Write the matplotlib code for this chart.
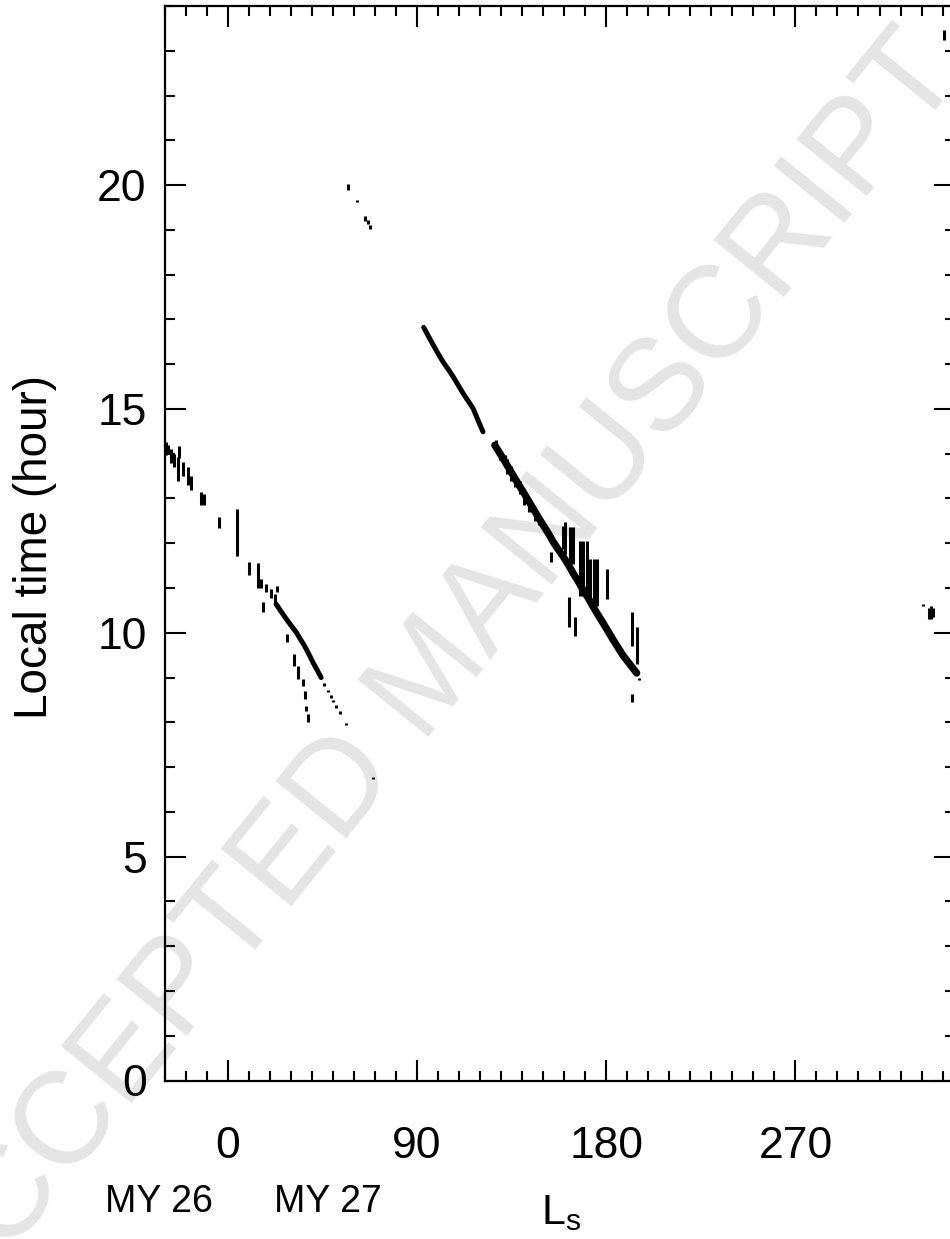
import matplotlib
matplotlib.use("Agg")
import matplotlib.pyplot as plt
from matplotlib.ticker import MultipleLocator

plt.rcParams['font.family'] = ['Liberation Sans', 'DejaVu Sans']

# ---------------- data (Ls in degrees, local time in hours) ----------------
# end of MY 26 / start of MY 27 observations (vertical extent = LT range)
early_ls = [-29.5, -28.5, -26.8, -25.8, -23.8, -23.0, -21.5, -19.0, -17.5,
            -12.5, -11.5, -4.2, 4.2, 10.1, 14.2, 15.9, 16.7, 18.3, 20.7, 22.3, 23.4]
early_lo = [13.98, 14.00, 13.80, 13.70, 13.40, 13.90, 13.51, 13.30, 13.20,
            12.85, 12.85, 12.33, 11.72, 11.28, 11.00, 11.00, 10.47, 10.90, 10.77, 10.64, 10.90]
early_hi = [14.27, 14.20, 14.10, 14.00, 13.93, 14.18, 13.82, 13.70, 13.50,
            13.15, 13.10, 12.59, 12.77, 11.58, 11.55, 11.20, 10.69, 11.10, 10.97, 10.87, 11.05]

# MY 27 first track (continuous part)
trk1_ls = [23.0, 25.0, 27.8, 30.0, 32.6, 34.5, 36.5, 38.5, 40.5, 42.5, 44.4]
trk1_lt = [10.64, 10.50, 10.31, 10.17, 10.01, 9.86, 9.71, 9.53, 9.34, 9.17, 9.00]
# sparse continuation of first track
dots1_ls = [46.0, 47.6, 49.0, 50.0, 51.5, 53.2, 56.1]
dots1_lt = [8.85, 8.70, 8.58, 8.48, 8.35, 8.22, 7.96]

# branch below first track
br1_ls = [28.1, 31.3, 33.2, 35.6, 36.9, 37.3, 38.1]
br1_lo = [9.79, 9.26, 8.97, 8.81, 8.52, 8.25, 8.00]
br1_hi = [9.97, 9.52, 9.26, 8.97, 8.70, 8.36, 8.18]

# isolated points
iso_ls = [57.2, 61.5, 65.5, 66.5, 67.6, 69.0]
iso_lo = [19.90, 19.62, 19.20, 19.12, 19.03, 6.73]
iso_hi = [20.02, 19.66, 19.30, 19.22, 19.10, 6.77]

# MY 27 second track, first segment
trk2a_ls = [93.2, 95.5, 97.7, 100.0, 102.4, 104.8, 107.2, 109.5, 111.9, 114.3, 116.7,
            119.0, 121.4]
trk2a_lt = [16.82, 16.62, 16.43, 16.24, 16.05, 15.89, 15.72, 15.54, 15.35, 15.18, 15.01,
            14.75, 14.49]
# MY 27 second track, second segment
trk2b_ls = [127.0, 129.0, 131.0, 133.4, 135.7, 138.1, 140.5, 142.9,
            145.3, 147.7, 150.1, 152.5, 154.8, 157.2, 159.6, 162.0, 164.4, 166.8,
            169.1, 171.5, 173.8, 176.1, 178.5, 180.8, 183.2, 185.5, 187.9, 190.2,
            192.5, 194.5]
trk2b_lt = [14.19, 14.04, 13.89, 13.70, 13.52, 13.33, 13.15, 12.96,
            12.77, 12.58, 12.40, 12.22, 12.03, 11.86, 11.70, 11.52, 11.32, 11.14,
            10.95, 10.77, 10.58, 10.40, 10.22, 10.04, 9.85, 9.68, 9.50, 9.36,
            9.22, 9.10]
# local scatter around the second segment (LT ranges)
fz_ls = [127.5, 129.5, 131.8, 133.0, 134.6, 136.4, 138.8, 141.0, 143.5, 146.0, 148.2]
fz_lo = [14.05, 13.85, 13.70, 13.55, 13.40, 13.25, 13.10, 12.85, 12.70, 12.50, 12.40]
fz_hi = [14.30, 14.10, 13.98, 13.88, 13.72, 13.55, 13.38, 13.15, 12.98, 12.80, 12.65]

# vertical streaks along the second track
stk_ls = [153.9, 159.5, 160.4, 162.5, 162.8, 164.2, 165.2, 167.6, 169.2, 170.8,
          172.4, 174.0, 175.6, 180.6, 192.2, 194.6, 195.5, 192.2]
stk_lo = [11.59, 11.88, 11.77, 10.13, 11.54, 11.54, 9.93, 10.83, 10.83, 10.83,
          10.60, 10.60, 10.60, 10.76, 9.71, 9.30, 8.95, 8.45]
stk_hi = [11.80, 12.39, 12.48, 10.80, 12.37, 12.37, 10.35, 12.04, 12.04, 12.04,
          11.65, 11.65, 11.65, 11.43, 10.47, 10.13, 9.00, 8.63]

# late MY 27 points
late_ls = [330.8, 333.4, 334.5, 335.6, 340.7]
late_lo = [10.60, 10.30, 10.30, 10.35, 23.25]
late_hi = [10.65, 10.55, 10.60, 10.55, 23.47]

x_ticks = [0, 90, 180, 270]
y_ticks = [0, 5, 10, 15, 20]
year_labels = ['MY 26', 'MY 27']

# ---------------- figure ----------------
W, H = 950, 1239
fig = plt.figure(figsize=(W / 100, H / 100), dpi=100)
fig.patch.set_facecolor('white')

ax = fig.add_axes([164.7 / W, 158.5 / H, 790.5 / W, 1074.5 / H])
ax.patch.set_alpha(0)

lw = 2.2
ax.vlines(early_ls, early_lo, early_hi, color='k', linewidth=lw)
ax.plot(trk1_ls, trk1_lt, color='k', linewidth=3.6, solid_capstyle='round')
ax.vlines(dots1_ls, [v - 0.03 for v in dots1_lt], [v + 0.03 for v in dots1_lt],
          color='k', linewidth=lw)
ax.vlines(br1_ls, br1_lo, br1_hi, color='k', linewidth=lw)
ax.vlines(iso_ls, iso_lo, iso_hi, color='k', linewidth=lw)
ax.plot(trk2a_ls, trk2a_lt, color='k', linewidth=3.6, solid_capstyle='round')
ax.plot(trk2b_ls, trk2b_lt, color='k', linewidth=5.2, solid_capstyle='round')
ax.vlines(fz_ls, fz_lo, fz_hi, color='k', linewidth=lw)
ax.vlines(stk_ls, stk_lo, stk_hi, color='k', linewidth=lw)
ax.vlines(late_ls, late_lo, late_hi, color='k', linewidth=lw)

ax.set_xlim(-30, 346)
ax.set_ylim(0, 24)
ax.set_xticks(x_ticks)
ax.set_yticks(y_ticks)
ax.xaxis.set_minor_locator(MultipleLocator(10))
ax.yaxis.set_minor_locator(MultipleLocator(1))
ax.tick_params(which='both', direction='in', top=True, right=True, width=1.5,
               labelsize=32, color='k')
ax.tick_params(which='major', length=14.8)
ax.tick_params(which='minor', length=7.5)
ax.tick_params(axis='x', which='major', pad=33)
ax.tick_params(axis='y', which='major', pad=13)
for s in ax.spines.values():
    s.set_linewidth(1.6)

fig.text(35 / W, 1 - 547 / H, 'Local time (hour)', rotation=90, ha='center',
         va='center', fontsize=33)
fig.text(159 / W, 1 - 1202 / H, year_labels[0], ha='center', va='center', fontsize=27)
fig.text(327.5 / W, 1 - 1202 / H, year_labels[1], ha='center', va='center', fontsize=27)
fig.text(541 / W, 1 - 1224 / H, r'$\mathregular{L_s}$', ha='left', va='baseline',
         fontsize=31)

fig.text(432 / W, 1 - 678 / H, 'ACCEPTED MANUSCRIPT', rotation=51, color='#e5e5e5',
         fontsize=94, ha='center', va='center', rotation_mode='anchor', zorder=-1)

fig.savefig('out.png', dpi=100)
